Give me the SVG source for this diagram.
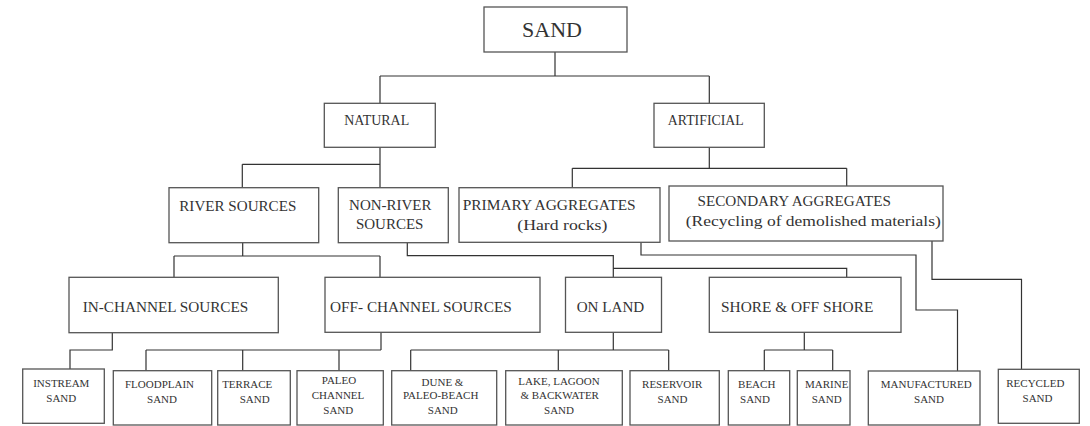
<svg xmlns="http://www.w3.org/2000/svg" width="1090" height="426" viewBox="0 0 1090 426">
<style>
.box{fill:#fff;stroke:#555;stroke-width:1.3}
.ln{fill:none;stroke:#333;stroke-width:1.2}
text{font-family:"Liberation Serif","Times New Roman",serif;fill:#333}
.big{font-size:22px}
.mid{font-size:15px}
.sm{font-size:11px;text-anchor:middle}
.c{text-anchor:middle}
</style>
<rect width="1090" height="426" fill="#fff"/>
<g id="connectors">
<path class="ln" d="M555,52V76M380,76H709.3M380,76V103.3M709.3,76V103.3"/>
<path class="ln" d="M380,147.3V187.7M242.3,164.3H380M242.3,164.3V187.7"/>
<path class="ln" d="M709.3,147.3V168.3M572.3,168.3H846.7M572.3,168.3V187.7M846.7,168.3V186"/>
<path class="ln" d="M242.7,242.7V256M174,256H380M174,256V277.3M380,256V277.3"/>
<path class="ln" d="M407.3,242.7V255.7H613.3V277.3M613.3,268.3H846.7V277.3"/>
<path class="ln" d="M641,242.3V255H916V310H957.5V371"/>
<path class="ln" d="M932,241V279.3H1021.5V369.3"/>
<path class="ln" d="M112.3,332.7V350H70V369"/>
<path class="ln" d="M381,332.3V350M146,350H381M146,350V370.7M242.7,350V370.7M339,350V370.7"/>
<path class="ln" d="M613.3,332.3V350M410.7,350H668.7M410.7,350V370.7M558.3,350V370.7M668.7,350V370.7"/>
<path class="ln" d="M804.3,332.3V350M764.3,350H832.7M764.3,350V370.7M832.7,350V370.7"/>
</g>
<g id="sand"><rect class="box" x="484" y="7" width="143" height="45"/><text class="big c" x="552" y="37">SAND</text></g>
<g id="natural"><rect class="box" x="324.3" y="103.3" width="111" height="44"/><text class="mid c" x="376.7" y="125" textLength="65" lengthAdjust="spacingAndGlyphs">NATURAL</text></g>
<g id="artificial"><rect class="box" x="654" y="103.3" width="110.3" height="44"/><text class="mid c" x="705.8" y="125" textLength="76" lengthAdjust="spacingAndGlyphs">ARTIFICIAL</text></g>
<g id="river"><rect class="box" x="169" y="187.7" width="149.7" height="55"/><text class="mid" x="179.3" y="211" textLength="117" lengthAdjust="spacingAndGlyphs">RIVER SOURCES</text></g>
<g id="nonriver"><rect class="box" x="338.3" y="187.7" width="110" height="55"/><text class="mid c" x="390.3" y="210">NON-RIVER</text><text class="mid c" x="389.7" y="229.3">SOURCES</text></g>
<g id="primary"><rect class="box" x="459" y="187.7" width="201" height="54.6"/><text class="mid" x="462.7" y="210" textLength="173" lengthAdjust="spacingAndGlyphs">PRIMARY AGGREGATES</text><text class="mid c" x="562.3" y="230" textLength="90" lengthAdjust="spacingAndGlyphs">(Hard rocks)</text></g>
<g id="secondary"><rect class="box" x="669" y="186" width="274" height="55"/><text class="mid" x="697.5" y="206" textLength="193.5" lengthAdjust="spacingAndGlyphs">SECONDARY AGGREGATES</text><text class="mid" x="685.8" y="226" textLength="255" lengthAdjust="spacingAndGlyphs">(Recycling of demolished materials)</text></g>
<g id="inchannel"><rect class="box" x="69" y="277.3" width="209.3" height="55.4"/><text class="mid" x="82.7" y="312.3" textLength="165.6" lengthAdjust="spacingAndGlyphs">IN-CHANNEL SOURCES</text></g>
<g id="offchannel"><rect class="box" x="325" y="277.3" width="215" height="55"/><text class="mid" x="330" y="312.3" textLength="181.7" lengthAdjust="spacingAndGlyphs">OFF- CHANNEL SOURCES</text></g>
<g id="onland"><rect class="box" x="565.5" y="277.3" width="96" height="55"/><text class="mid" x="576.7" y="312.3" textLength="67.5" lengthAdjust="spacingAndGlyphs">ON LAND</text></g>
<g id="shore"><rect class="box" x="709.3" y="277.3" width="191.7" height="55"/><text class="mid" x="721" y="312.3" textLength="152.3" lengthAdjust="spacingAndGlyphs">SHORE &amp; OFF SHORE</text></g>
<g id="instream"><rect class="box" x="22.7" y="369" width="81.6" height="54.3"/><text class="sm" x="61.3" y="386.5">INSTREAM</text><text class="sm" x="61.3" y="402.2">SAND</text></g>
<g id="floodplain"><rect class="box" x="113.3" y="370.7" width="98.4" height="54.3"/><text class="sm" x="159.5" y="388">FLOODPLAIN</text><text class="sm" x="162" y="403.3">SAND</text></g>
<g id="terrace"><rect class="box" x="217.7" y="370.7" width="72.6" height="54.3"/><text class="sm" x="247.2" y="388">TERRACE</text><text class="sm" x="254.7" y="403.3">SAND</text></g>
<g id="paleo"><rect class="box" x="297" y="370.7" width="86.3" height="54.3"/><text class="sm" x="339" y="384.3">PALEO</text><text class="sm" x="338" y="399">CHANNEL</text><text class="sm" x="338.3" y="413.5">SAND</text></g>
<g id="dune"><rect class="box" x="391.7" y="370.7" width="105" height="54.3"/><text class="sm" x="442.5" y="385.7">DUNE &amp;</text><text class="sm" x="440.7" y="399">PALEO-BEACH</text><text class="sm" x="442.8" y="414">SAND</text></g>
<g id="lake"><rect class="box" x="505.7" y="370.7" width="116.6" height="54.3"/><text class="sm" x="559" y="385">LAKE, LAGOON</text><text class="sm" x="559.7" y="399">&amp; BACKWATER</text><text class="sm" x="559" y="414">SAND</text></g>
<g id="reservoir"><rect class="box" x="630" y="370.7" width="89.3" height="54.3"/><text class="sm" x="672.2" y="388">RESERVOIR</text><text class="sm" x="672.5" y="403.3">SAND</text></g>
<g id="beach"><rect class="box" x="728.3" y="370.7" width="61.4" height="54.3"/><text class="sm" x="756.7" y="388">BEACH</text><text class="sm" x="755" y="403.3">SAND</text></g>
<g id="marine"><rect class="box" x="797.3" y="370.7" width="52.7" height="54.3"/><text class="sm" x="826.7" y="388">MARINE</text><text class="sm" x="826.7" y="403.3">SAND</text></g>
<g id="manufactured"><rect class="box" x="868.3" y="371" width="111.7" height="54"/><text class="sm" x="926.2" y="388">MANUFACTURED</text><text class="sm" x="929" y="403.3">SAND</text></g>
<g id="recycled"><rect class="box" x="998.3" y="369.3" width="81" height="54"/><text class="sm" x="1035.3" y="386.5">RECYCLED</text><text class="sm" x="1037.5" y="401.7">SAND</text></g>
</svg>
